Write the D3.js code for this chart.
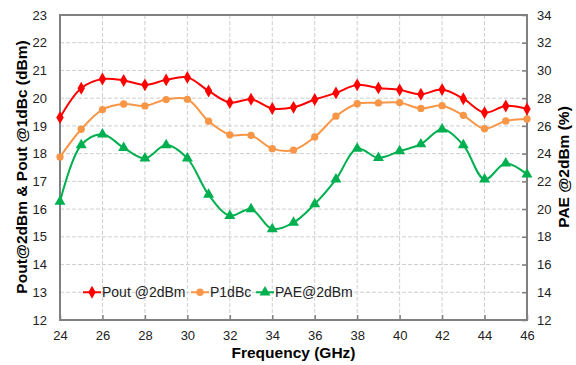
<!DOCTYPE html>
<html>
<head>
<meta charset="utf-8">
<script src="https://cdn.jsdelivr.net/npm/d3@7"></script>
<style>
  body { margin: 0; background: #fff; }
  text { font-family: Arial, "Liberation Sans", sans-serif; fill: #222; }
</style>
</head>
<body>
<svg id="chart" width="576" height="365"></svg>
<script>
// frequency points (GHz)
const freq = [24,25,26,27,28,29,30,31,32,33,34,35,36,37,38,39,40,41,42,43,44,45,46];
// Pout @2dBm (dBm)
const pout = [19.30,20.36,20.69,20.64,20.48,20.66,20.75,20.26,19.84,19.96,19.63,19.67,19.95,20.19,20.48,20.37,20.30,20.14,20.31,19.98,19.48,19.72,19.61];
// P1dBc (dBm)
const p1db = [17.88,18.88,19.59,19.79,19.72,19.95,19.96,19.17,18.68,18.66,18.18,18.13,18.60,19.35,19.80,19.83,19.84,19.63,19.73,19.38,18.90,19.18,19.25];
// PAE @2dBm (%)
const pae = [20.54,24.62,25.40,24.42,23.66,24.62,23.66,21.04,19.52,20.00,18.56,19.02,20.36,22.14,24.36,23.70,24.18,24.68,25.76,24.62,22.14,23.30,22.50];

const xTicks = [24,26,28,30,32,34,36,38,40,42,44,46];
const yLeftTicks = [12,13,14,15,16,17,18,19,20,21,22,23];
const yRightTicks = [12,14,16,18,20,22,24,26,28,30,32,34];

const svg = d3.select('#chart');
const L = 60, R = 527, T = 15, B = 320;

const x = d3.scaleLinear().domain([24,46]).range([L,R]);
const yL = d3.scaleLinear().domain([12,23]).range([B,T]);
const yR = d3.scaleLinear().domain([12,34]).range([B,T]);

// grid
svg.append('g').selectAll('line')
  .data(yLeftTicks.slice(1,-1))
  .join('line')
  .attr('x1',L).attr('x2',R)
  .attr('y1',d=>yL(d)).attr('y2',d=>yL(d))
  .attr('stroke','#cfcfcf').attr('stroke-dasharray','4,2').attr('stroke-width',1);

svg.append('g').selectAll('line')
  .data(xTicks.slice(1,-1))
  .join('line')
  .attr('y1',T).attr('y2',B)
  .attr('x1',d=>x(d)).attr('x2',d=>x(d))
  .attr('stroke','#cfcfcf').attr('stroke-dasharray','4,2').attr('stroke-width',1);

// axes
const xAxis = svg.append('g').attr('transform','translate(0,'+B+')')
  .call(d3.axisBottom(x).tickValues(xTicks).tickSizeInner(-5).tickSizeOuter(0).tickPadding(11));
const yAxisL = svg.append('g').attr('transform','translate('+L+',0)')
  .call(d3.axisLeft(yL).tickValues(yLeftTicks).tickSize(0).tickPadding(13));
const yAxisR = svg.append('g').attr('transform','translate('+R+',0)')
  .call(d3.axisRight(yR).tickValues(yRightTicks).tickSizeInner(-5).tickSizeOuter(0).tickPadding(10));

[xAxis,yAxisL,yAxisR].forEach(function(a){
  a.select('.domain').remove();
  a.selectAll('line').attr('stroke','#808080').attr('stroke-width',1.5);
  a.selectAll('text').style('font-size','13px').style('fill','#222');
});

// frame
svg.append('rect')
  .attr('x',L).attr('y',T).attr('width',R-L).attr('height',B-T)
  .attr('fill','none').attr('stroke','#808080').attr('stroke-width',2);

// series
const series = [
  {name:'Pout @2dBm', vals:pout, y:yL, color:'#ff0000', sym:d3.symbolDiamond, size:48},
  {name:'P1dBc', vals:p1db, y:yL, color:'#f79646', sym:d3.symbolCircle, size:42},
  {name:'PAE@2dBm', vals:pae, y:yR, color:'#00b050', sym:d3.symbolTriangle, size:52}
];

series.forEach(function(s){
  const line = d3.line()
    .x((d,i)=>x(freq[i]))
    .y(d=>s.y(d))
    .curve(d3.curveCatmullRom.alpha(0.5));
  svg.append('path')
    .datum(s.vals)
    .attr('d',line)
    .attr('fill','none')
    .attr('stroke',s.color)
    .attr('stroke-width',2);
  svg.append('g').selectAll('path')
    .data(s.vals)
    .join('path')
    .attr('transform',(d,i)=>'translate('+x(freq[i])+','+s.y(d)+')')
    .attr('d',d3.symbol().type(s.sym).size(s.size))
    .attr('fill',s.color);
});

// legend
const legX = [83,191,256];
const legY = yL(13);
series.forEach(function(s,i){
  const g = svg.append('g').attr('transform','translate('+legX[i]+','+legY+')');
  g.append('line').attr('x1',0).attr('x2',18).attr('stroke',s.color).attr('stroke-width',2);
  g.append('path').attr('transform','translate(9,0)')
    .attr('d',d3.symbol().type(s.sym).size(s.size)).attr('fill',s.color);
  g.append('text').attr('x',19).attr('dy','0.36em')
    .style('font-size','14px').text(s.name);
});

// titles
svg.append('text')
  .attr('x',(L+R)/2).attr('y',358)
  .attr('text-anchor','middle')
  .style('font-size','15.5px').style('font-weight','bold').style('fill','#000')
  .text('Frequency (GHz)');

svg.append('text')
  .attr('transform','translate(27,167) rotate(-90)')
  .attr('text-anchor','middle')
  .style('font-size','15.5px').style('font-weight','bold').style('fill','#000')
  .text('Pout@2dBm & Pout @1dBc (dBm)');

svg.append('text')
  .attr('transform','translate(569,167) rotate(-90)')
  .attr('text-anchor','middle')
  .style('font-size','15.5px').style('font-weight','bold').style('fill','#000')
  .text('PAE @2dBm (%)');
</script>
</body>
</html>
